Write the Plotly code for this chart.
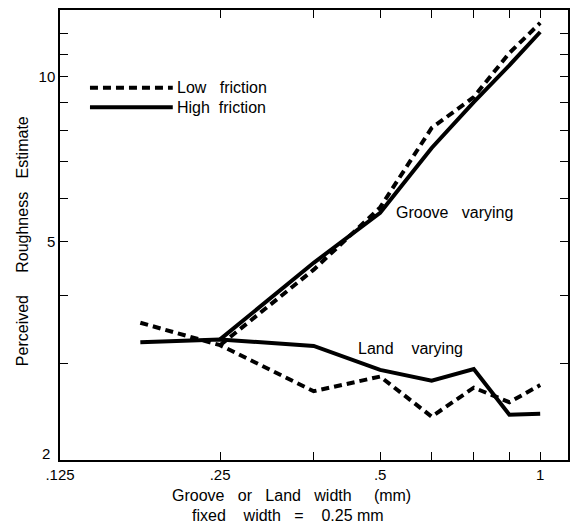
import plotly.graph_objects as go

# ---- data ----
x_land = [0.177, 0.25, 0.375, 0.5, 0.625, 0.75, 0.875, 1.0]
land_low = [3.56, 3.24, 2.67, 2.84, 2.40, 2.71, 2.55, 2.74]
land_high = [3.28, 3.32, 3.23, 2.92, 2.79, 2.93, 2.42, 2.43]

x_groove = [0.25, 0.375, 0.5, 0.625, 0.75, 0.875, 1.0]
groove_low = [3.24, 4.45, 5.78, 8.07, 9.19, 11.06, 12.55]
groove_high = [3.32, 4.58, 5.65, 7.42, 9.00, 10.50, 12.08]

x_tickvals = [0.125, 0.25, 0.375, 0.5, 0.625, 0.75, 0.875, 1.0]
x_ticktext = [".125", ".25", "", ".5", "", "", "", "1"]
y_tickvals = [2, 3, 4, 5, 6, 7, 8, 9, 10, 11, 12]
y_ticktext = ["", "", "", "5", "", "", "", "", "10", "", ""]
y_bottom_label = "2"

FONT = "Liberation Sans, Arial, sans-serif"
DASH = "8px,5px"
NB = "\u00a0"


def sp(n):
    return NB * n


fig = go.Figure()
fig.add_trace(go.Scatter(x=x_groove, y=groove_high, mode="lines",
                         line=dict(color="black", width=4), showlegend=False))
fig.add_trace(go.Scatter(x=x_groove, y=groove_low, mode="lines",
                         line=dict(color="black", width=4, dash=DASH), showlegend=False))
fig.add_trace(go.Scatter(x=x_land, y=land_high, mode="lines",
                         line=dict(color="black", width=4), showlegend=False))
fig.add_trace(go.Scatter(x=x_land, y=land_low, mode="lines",
                         line=dict(color="black", width=4, dash=DASH), showlegend=False))

axis_common = dict(showgrid=False, zeroline=False, showline=True, linecolor="black",
                   linewidth=1.5, mirror="ticks", ticks="inside", ticklen=8,
                   tickwidth=1.2, tickcolor="black",
                   tickfont=dict(family=FONT, size=15, color="black"))

fig.update_xaxes(type="log", range=[-0.9031, 0.0523], tickmode="array",
                 tickvals=x_tickvals, ticktext=x_ticktext, **axis_common)
fig.update_yaxes(type="log", range=[0.30103, 1.1222], tickmode="array",
                 tickvals=y_tickvals, ticktext=y_ticktext, **axis_common)

TXT = dict(family=FONT, size=16, color="black")

# bottom y label "2" (sits slightly above the x labels)
fig.add_annotation(text=y_bottom_label, xref="paper", yref="paper", x=(52 - 60) / 510, y=(460 - 453) / 450,
                   xanchor="right", yanchor="middle", showarrow=False,
                   font=dict(family=FONT, size=15, color="black"))

# legend drawn as line samples + labels
legend_items = [("Low" + sp(3) + "friction", 0.827, DASH), ("High" + sp(2) + "friction", 0.784, "solid")]
for label, yp, dash in legend_items:
    fig.add_shape(type="line", xref="paper", yref="paper", x0=0.059, x1=0.222, y0=yp, y1=yp,
                  line=dict(color="black", width=4, dash=dash))
    fig.add_annotation(text=label, xref="paper", yref="paper", x=0.227, y=yp,
                       xanchor="left", yanchor="middle", showarrow=False, font=TXT)

fig.add_annotation(text="Groove" + sp(3) + "varying", xref="paper", yref="paper", x=0.657, y=0.551,
                   xanchor="left", yanchor="middle", showarrow=False, font=TXT)
fig.add_annotation(text="Land" + sp(4) + "varying", xref="paper", yref="paper", x=0.582, y=0.247,
                   xanchor="left", yanchor="middle", showarrow=False, font=TXT)

# axis titles
fig.add_annotation(text="Perceived" + sp(5) + "Roughness" + sp(3) + "Estimate", xref="paper", yref="paper",
                   x=(22 - 60) / 510, y=(460 - 241) / 450, textangle=-90,
                   xanchor="center", yanchor="middle", showarrow=False, font=TXT)
fig.add_annotation(text="Groove" + sp(3) + "or" + sp(3) + "Land" + sp(3) + "width" + sp(5) + "(mm)",
                   xref="paper", yref="paper", x=(292 - 60) / 510, y=(460 - 495) / 450,
                   xanchor="center", yanchor="middle", showarrow=False, font=TXT)
fig.add_annotation(text="fixed" + sp(4) + "width" + sp(3) + "=" + sp(4) + "0.25" + sp(1) + "mm",
                   xref="paper", yref="paper", x=(289 - 60) / 510, y=(460 - 515) / 450,
                   xanchor="center", yanchor="middle", showarrow=False, font=TXT)

fig.update_layout(width=577, height=526, margin=dict(l=60, r=7, t=10, b=66),
                  paper_bgcolor="white", plot_bgcolor="white", showlegend=False,
                  font=dict(family=FONT, color="black"))

fig.write_html("out.html")
